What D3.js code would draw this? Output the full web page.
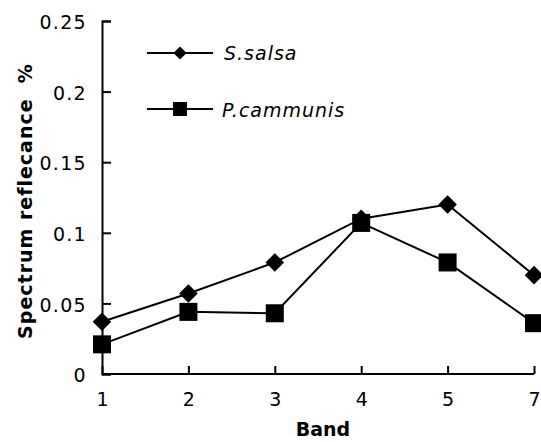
<!DOCTYPE html>
<html>
<head>
<meta charset="utf-8">
<script src="https://cdn.jsdelivr.net/npm/d3@7"></script>
<style>
  body { margin: 0; background: #fff; }
  text { font-family: "DejaVu Sans", Verdana, sans-serif; fill: #000; }
</style>
</head>
<body>
<script>
// bands on the x axis (band 6 is not in the chart)
var bands = ["1", "2", "3", "4", "5", "7"];
var salsa = [0.037, 0.057, 0.079, 0.110, 0.120, 0.070];
var cammunis = [0.021, 0.044, 0.043, 0.107, 0.079, 0.036];
var yTicks = [0, 0.05, 0.1, 0.15, 0.2, 0.25];

var width  = 541,
    height = 442;

var svg = d3.select("body").append("svg")
    .attr("width", width)
    .attr("height", height);

var x = d3.scalePoint()
    .domain(bands)
    .range([102, 534]);

var y = d3.scaleLinear()
    .domain([0, 0.25])
    .range([374, 21]);

// y axis, ticks pointing inward
var yAxis = svg.append("g")
    .attr("transform", "translate(102,0)")
    .call(d3.axisRight(y).tickValues(yTicks).tickSize(9)
      .tickFormat(function(d) { return d === 0 ? "0" : String(d); }));
yAxis.select(".domain").attr("stroke-width", 2);
yAxis.selectAll(".tick line").attr("stroke-width", 2);
yAxis.selectAll(".tick text")
    .attr("x", -15)
    .attr("dy", "0.4em")
    .attr("text-anchor", "end")
    .style("font-size", "19px")
    .style("letter-spacing", "1.3px");

// x axis, ticks pointing up
var xAxis = svg.append("g")
    .attr("transform", "translate(0,374)")
    .call(d3.axisTop(x).tickSize(8));
xAxis.select(".domain").attr("d", "M102,0H534").attr("stroke-width", 2);
xAxis.selectAll(".tick line").attr("stroke-width", 2);
xAxis.selectAll(".tick text")
    .attr("y", 32)
    .attr("dy", 0)
    .style("font-size", "19px");

svg.append("text")
    .attr("x", 323)
    .attr("y", 436)
    .attr("text-anchor", "middle")
    .style("font-size", "19px")
    .style("font-weight", "bold")
    .text("Band");

svg.append("text")
    .attr("transform", "translate(32,201) rotate(-90)")
    .attr("text-anchor", "middle")
    .style("font-size", "19px")
    .style("font-weight", "bold")
    .style("letter-spacing", "1px")
    .style("white-space", "pre")
    .text("Spectrum reflecance  %");

var line = d3.line()
    .x(function(d, i) { return x(bands[i]); })
    .y(function(d) { return y(d); });

svg.append("path")
    .attr("d", line(salsa))
    .attr("fill", "none")
    .attr("stroke", "#000")
    .attr("stroke-width", 2);

svg.append("path")
    .attr("d", line(cammunis))
    .attr("fill", "none")
    .attr("stroke", "#000")
    .attr("stroke-width", 2);

var diamond = d3.symbol().type(d3.symbolDiamond2).size(220);

svg.selectAll(".salsa").data(salsa).enter().append("path")
    .attr("class", "salsa")
    .attr("d", diamond)
    .attr("transform", function(d, i) { return "translate(" + x(bands[i]) + "," + y(d) + ")"; })
    .attr("fill", "#000");

svg.selectAll(".cam").data(cammunis).enter().append("rect")
    .attr("class", "cam")
    .attr("x", function(d, i) { return x(bands[i]) - 9; })
    .attr("y", function(d) { return y(d) - 9; })
    .attr("width", 18)
    .attr("height", 18)
    .attr("fill", "#000");

// legend
var legend = svg.append("g");
legend.append("line").attr("x1", 147).attr("x2", 213).attr("y1", 53).attr("y2", 53)
    .attr("stroke", "#000").attr("stroke-width", 2);
legend.append("path").attr("d", d3.symbol().type(d3.symbolDiamond2).size(110))
    .attr("transform", "translate(180,53)");
legend.append("text").attr("x", 224).attr("y", 60)
    .style("font-size", "19px").style("font-style", "italic").style("letter-spacing", "1px")
    .text("S.salsa");

legend.append("line").attr("x1", 147).attr("x2", 213).attr("y1", 109).attr("y2", 109)
    .attr("stroke", "#000").attr("stroke-width", 2);
legend.append("rect").attr("x", 173).attr("y", 102).attr("width", 14).attr("height", 14);
legend.append("text").attr("x", 222).attr("y", 117)
    .style("font-size", "19px").style("font-style", "italic").style("letter-spacing", "1px")
    .text("P.cammunis");
</script>
</body>
</html>
